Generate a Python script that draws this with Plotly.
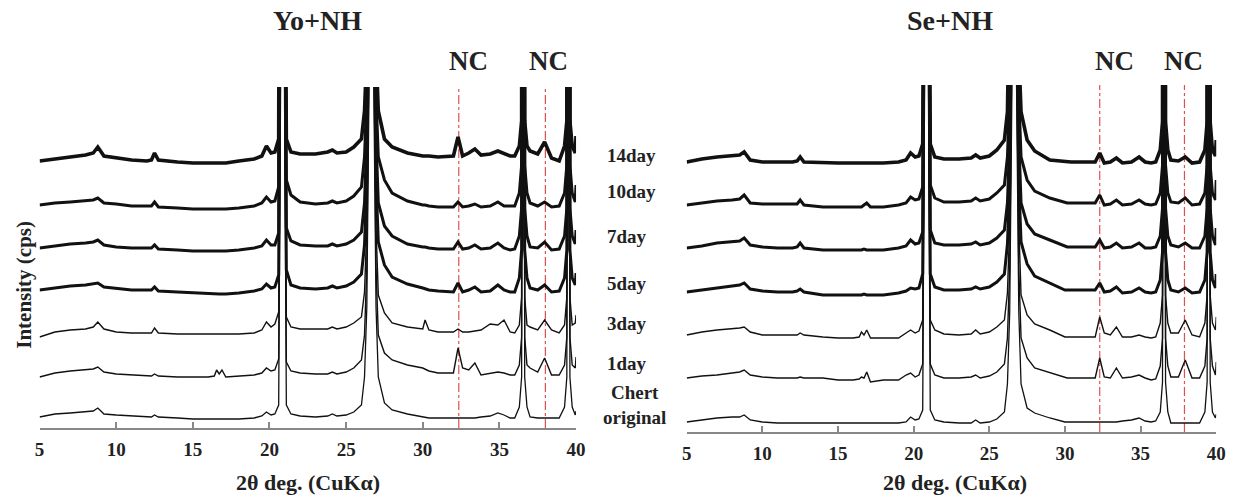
import plotly.graph_objects as go

# ---------------- data ----------------
two_theta = [5, 6, 7, 8, 8.5, 8.8, 9.2, 10, 11, 12, 12.3, 12.5, 12.75,
             14, 15, 16, 16.4, 16.55, 16.72, 16.9, 17.15, 18, 19, 19.5, 19.8,
             20.1, 20.35, 20.6, 20.72, 20.85, 20.98, 21.1, 21.4, 22, 23, 23.8, 24.1, 24.4, 25,
             25.5, 26.0, 26.2, 26.35, 26.5, 26.65, 26.8, 26.95, 27.1, 27.5, 28.0, 29, 30,
             30.15, 30.4, 31, 32, 32.3, 32.6, 33.0, 33.4, 33.8, 34.4, 34.9, 35.3, 35.7, 36.0,
             36.3, 36.45, 36.55, 36.65, 36.8, 37.0, 37.5, 37.95, 38.4, 38.9, 39.25, 39.4, 39.5, 39.6, 39.75, 39.95, 40.0]

sample_labels = ["14day", "10day", "7day", "5day", "3day", "1day", "Chert<br>original"]

# stacking offsets (cps) of each pattern
yo_offsets = [267, 223, 180, 138, 91, 51, 11]
se_offsets = [270, 227, 184, 140, 97, 54, 10]

# Yo+NH patterns (cps, relative to each pattern's start)
yo_14day = [0, 2, 4, 6, 8, 14, 5, 3, 1, 0, 1, 8, 1,
            -1, -2, -2, -2, -2, -2, -2, -2, 0, 2, 5, 15,
            8, 9, 22, 350, 2000, 350, 22, 9, 7, 7, 9, 11, 8, 9,
            14, 22, 50, 110, 340, 3000, 340, 110, 50, 22, 14, 8, 5,
            5, 5, 4, 5, 24, 5, 8, 12, 6, 7, 10, 7, 5, 5,
            15, 40, 2000, 40, 15, 10, 7, 19, 3, 0, 15, 40, 2000, 40, 15, 8, 25]
yo_10day = [0, 2, 3, 4, 5, 7, 2, 1, -1, -1, -1, 3, -2,
            -3, -4, -4, -4, -4, -4, -4, -4, -3, -1, 2, 8,
            3, 4, 18, 350, 2000, 350, 25, 10, 3, 1, 2, 4, 2, 4,
            9, 18, 48, 110, 340, 3000, 340, 110, 48, 25, 12, 4, 0,
            0, -1, -2, -2, 3, -2, -1, 1, -2, -1, 3, -1, -1, -1,
            12, 40, 2000, 40, 12, 2, -1, 3, -2, -1, 12, 40, 2000, 40, 12, 3, 20]
yo_7day = [0, 2, 4, 5, 6, 8, 3, 1, 0, 0, 0, 3, -1,
           -2, -3, -3, -3, -3, -3, -3, -3, -2, 0, 2, 8,
           3, 3, 15, 350, 2000, 350, 20, 7, 3, 2, 2, 4, 2, 4,
           8, 16, 45, 110, 340, 3000, 340, 110, 45, 22, 12, 4, 1,
           1, 0, -1, -1, 6, -1, 0, 3, -1, 0, 5, 0, -2, -1,
           12, 40, 2000, 40, 12, 1, 0, 6, -2, -1, 12, 40, 2000, 40, 12, 4, 18]
yo_5day = [0, 2, 4, 5, 6, 7, 3, 2, 0, 0, 0, 3, -1,
           -2, -3, -4, -4, -4, -4, -4, -4, -3, -1, 1, 6,
           2, 3, 15, 350, 2000, 350, 20, 5, 2, 1, 2, 4, 2, 4,
           8, 16, 45, 110, 340, 3000, 340, 110, 48, 25, 13, 6, 2,
           1, 0, -1, -2, 7, -2, 0, 3, -2, -1, 5, 0, -2, -2,
           12, 40, 2000, 40, 12, 2, 0, 5, -2, -1, 12, 40, 2000, 40, 12, 5, 17]
yo_3day = [0, 5, 7, 8, 10, 15, 8, 5, 4, 4, 4, 9, 4,
           3, 3, 3, 3, 3, 3, 3, 3, 3, 4, 7, 15,
           10, 13, 25, 350, 2000, 350, 20, 10, 8, 8, 8, 10, 8, 10,
           14, 20, 45, 110, 340, 3000, 340, 110, 42, 24, 14, 10, 8,
           17, 7, 5, 5, 8, 5, 5, 6, 7, 13, 12, 17, 5, 4,
           12, 40, 2000, 40, 12, 10, 7, 17, 7, 4, 12, 40, 2000, 40, 12, 14, 22]
yo_1day = [0, 4, 6, 7, 8, 10, 5, 3, 2, 1, 1, 3, 1,
           0, 0, 0, 1, 7, 3, 7, 0, 1, 2, 4, 9,
           6, 7, 18, 350, 2000, 350, 15, 6, 4, 3, 3, 5, 3, 5,
           9, 17, 42, 110, 340, 3000, 340, 110, 42, 24, 17, 12, 9,
           8, 6, 4, 4, 29, 9, 7, 14, 2, 4, 5, 4, 2, 2,
           12, 40, 2000, 40, 12, 9, 5, 19, 2, 2, 12, 40, 2000, 40, 12, 9, 20]
yo_original = [0, 3, 4, 5, 6, 9, 3, 2, 1, 0, 0, 2, 0,
               -1, -2, -2, -2, -2, -2, -2, -2, -2, -1, 1, 5,
               2, 3, 12, 350, 2000, 350, 12, 3, 1, 0, 1, 3, 1, 2,
               5, 12, 40, 110, 340, 3000, 340, 110, 40, 14, 7, 3, 0,
               0, -1, -1, -1, -1, -1, -1, -1, 0, 1, 4, 2, -1, -1,
               10, 40, 2000, 40, 10, 0, -1, -1, -1, -1, 10, 40, 2000, 40, 10, 2, 6]

# Se+NH patterns
se_14day = [0, 3, 5, 6, 7, 10, 2, 0, 0, 0, 1, 5, 0,
            -1, -1, -1, -1, -1, -1, -1, -1, -1, 0, 2, 9,
            5, 6, 18, 350, 2000, 350, 18, 5, 3, 3, 4, 7, 4, 6,
            12, 22, 50, 110, 340, 3000, 340, 110, 50, 22, 11, 2, 0,
            0, 0, 0, 0, 9, -1, 0, 4, -1, 0, 5, 0, -1, 0,
            12, 40, 2000, 40, 12, 2, 1, 5, -1, 0, 12, 40, 2000, 40, 12, 6, 22]
se_10day = [0, 2, 4, 5, 6, 10, 2, 1, 1, 1, 1, 5, 0,
            -2, -2, -2, -2, -2, 0, 2, -2, -2, 0, 2, 8,
            5, 6, 18, 350, 2000, 350, 20, 7, 3, 3, 4, 7, 4, 6,
            12, 20, 48, 110, 340, 3000, 340, 110, 48, 25, 14, 7, 3,
            2, 2, 2, 2, 10, 0, 1, 5, 0, 1, 5, 1, 0, 1,
            12, 40, 2000, 40, 12, 3, 2, 7, 0, 1, 12, 40, 2000, 40, 12, 5, 25]
se_7day = [0, 2, 5, 6, 7, 10, 3, 1, 0, 0, 1, 5, 0,
           -2, -2, -2, -2, -2, -1, -2, -2, -2, 0, 2, 8,
           4, 5, 16, 350, 2000, 350, 18, 5, 3, 3, 4, 6, 3, 5,
           10, 18, 45, 110, 340, 3000, 340, 110, 45, 24, 14, 8, 2,
           1, 1, 1, 1, 8, 0, 1, 5, 0, 1, 5, 0, 0, 1,
           12, 40, 2000, 40, 12, 3, 1, 5, 0, 0, 12, 40, 2000, 40, 12, 3, 20]
se_5day = [0, 2, 4, 6, 7, 9, 3, 1, 0, 0, 1, 3, 0,
           -3, -3, -3, -3, -3, -2, -3, -3, -3, -1, 1, 4,
           3, 4, 18, 350, 2000, 350, 18, 5, 2, 2, 3, 5, 3, 5,
           10, 18, 48, 110, 340, 3000, 340, 110, 50, 28, 16, 9, 2,
           2, 2, 2, 2, 9, 0, 1, 5, -1, 0, 4, 0, -1, 0,
           12, 40, 2000, 40, 12, 2, 0, 4, -1, 0, 12, 40, 2000, 40, 12, 4, 18]
se_3day = [0, 3, 5, 6, 7, 8, 3, 0, 0, 0, 0, 2, 0,
           -2, -3, -3, -2, 3, 0, 5, -3, -3, -3, 2, 5,
           2, 4, 15, 350, 2000, 350, 15, 5, 1, 0, 1, 5, 1, 3,
           8, 15, 42, 110, 340, 3000, 340, 110, 40, 20, 11, 5, -2,
           -2, -2, -2, -2, 18, 2, 0, 8, -2, -2, 0, -2, -3, -2,
           12, 40, 2000, 40, 12, 2, 2, 15, 0, -2, 12, 40, 2000, 40, 12, 5, 18]
se_1day = [0, 2, 3, 5, 6, 8, 3, 1, 0, 0, 0, 1, 0,
           0, -2, -2, -1, 1, 0, 6, -4, -2, -2, 3, 5,
           1, 3, 14, 350, 2000, 350, 14, 3, 0, 0, 1, 3, 0, 2,
           6, 14, 40, 110, 340, 3000, 340, 110, 40, 20, 10, 5, 0,
           0, 0, 0, 0, 20, 1, 0, 10, 0, 1, 3, 0, -2, -1,
           12, 40, 2000, 40, 12, 1, 1, 18, 0, 0, 12, 40, 2000, 40, 12, 3, 16]
se_original = [0, 2, 4, 5, 5, 7, 2, 0, -1, -1, -1, -1, -1,
               -1, -1, -1, -1, -1, -1, -1, -1, -1, -1, 0, 5,
               2, 3, 12, 350, 2000, 350, 12, 2, 0, -1, -1, 2, -1, 0,
               3, 10, 38, 110, 340, 3000, 340, 110, 38, 14, 9, 4, 0,
               0, 0, 0, 0, 0, 0, 0, 0, 1, 2, 4, 1, 0, 1,
               10, 40, 2000, 40, 10, -1, -1, -1, -1, -1, 10, 40, 2000, 40, 10, 4, 8]

yo_series = [yo_14day, yo_10day, yo_7day, yo_5day, yo_3day, yo_1day, yo_original]
se_series = [se_14day, se_10day, se_7day, se_5day, se_3day, se_1day, se_original]

yo_nc_positions = [32.35, 38.0]
se_nc_positions = [32.3, 37.9]
x_ticks = [5, 10, 15, 20, 25, 30, 35, 40]

for s in yo_series + se_series:
    assert len(s) == len(two_theta), len(s)

# ---------------- figure ----------------
W, H = 1245, 498
FONT = "Liberation Serif"
line_widths = [3.6, 3.0, 3.0, 3.0, 1.4, 1.4, 1.3]

fig = go.Figure()

for series, offsets, xa, ya in [(yo_series, yo_offsets, "x", "y"), (se_series, se_offsets, "x2", "y2")]:
    for name, vals, off, lw in zip(sample_labels, series, offsets, line_widths):
        fig.add_trace(go.Scatter(
            x=two_theta, y=[v + off for v in vals], mode="lines",
            line=dict(color="#111111", width=lw), name=name.replace("<br>", " "),
            xaxis=xa, yaxis=ya, showlegend=False, hoverinfo="skip"))


def px_x(p):
    return p / W


def px_y(p):
    return 1 - p / H


axis_common = dict(range=[5, 40], tickvals=x_ticks, ticks="inside", ticklen=6, tickwidth=1.5,
                   tickcolor="#888888", showline=True, linecolor="#888888", linewidth=2,
                   showgrid=False, zeroline=False, ticklabelstandoff=3,
                   tickfont=dict(family=FONT, size=19, color="#222222", weight="bold"))

fig.update_layout(
    width=W, height=H, margin=dict(l=0, r=0, t=0, b=0),
    paper_bgcolor="white", plot_bgcolor="white",
    xaxis=dict(domain=[px_x(35), px_x(578)], anchor="y", **axis_common),
    yaxis=dict(domain=[px_y(428), px_y(87)], range=[0, 341], visible=False, anchor="x"),
    xaxis2=dict(domain=[px_x(690), px_x(1226)], anchor="y2", **axis_common),
    yaxis2=dict(domain=[px_y(432), px_y(85)], range=[0, 347], visible=False, anchor="x2"),
)

shapes = []
for xs, xr, yr, top in [(yo_nc_positions, "x", "y", 341), (se_nc_positions, "x2", "y2", 347)]:
    for xv in xs:
        shapes.append(dict(type="line", xref=xr, yref=yr, x0=xv, x1=xv, y0=0, y1=top,
                           line=dict(color="rgba(215,50,50,0.85)", width=1.2, dash="dashdot"),
                           layer="below"))
fig.update_layout(shapes=shapes)

ann = []


def add_text(text, x, y, size, xanchor="center", angle=0):
    ann.append(dict(text=text, x=px_x(x), y=px_y(y), xref="paper", yref="paper",
                    xanchor=xanchor, yanchor="middle", showarrow=False, textangle=angle,
                    font=dict(family=FONT, size=size, color="#222222", weight="bold")))


add_text("Yo+NH", 316, 20, 28)
add_text("Se+NH", 957, 20, 28)
for xc in [469, 550, 1123, 1193]:
    add_text("NC", xc, 61, 27)
add_text("2θ deg. (CuKα)", 307, 482, 22)
add_text("2θ deg. (CuKα)", 962, 482, 22)
add_text("Intensity (cps)", 19, 285, 21, angle=-90)

label_y = [155, 191, 237, 283, 323, 363]
for lab, yy in zip(sample_labels[:6], label_y):
    add_text(lab, 607, yy, 19, xanchor="left")
add_text(sample_labels[6], 637, 405, 19)

fig.update_layout(annotations=ann)
fig.write_html("out.html", config={"displayModeBar": False},
               post_script="document.body.style.margin='0';document.body.style.overflow='hidden';")
